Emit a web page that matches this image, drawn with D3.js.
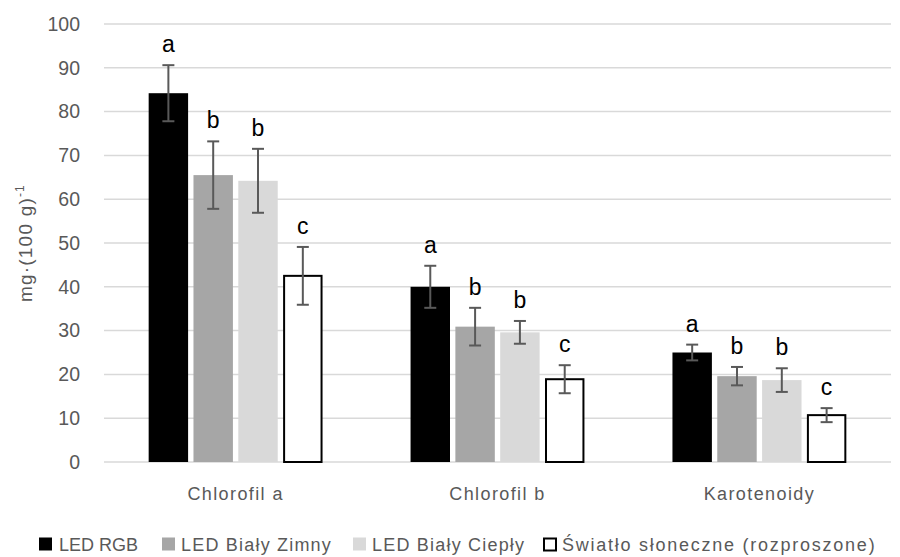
<!DOCTYPE html>
<html>
<head>
<meta charset="utf-8">
<script src="https://cdn.jsdelivr.net/npm/d3@7"></script>
<style>
  body { margin: 0; background: #fff; }
  text { font-family: "Liberation Sans", Arial, sans-serif; }
</style>
</head>
<body>
<div id="chart"></div>
<script>
// categories and series
const categories = ["Chlorofil a", "Chlorofil b", "Karotenoidy"];
const seriesNames = ["LED RGB", "LED Biały Zimny", "LED Biały Ciepły", "Światło słoneczne (rozproszone)"];
const seriesColors = ["#000000", "#a6a6a6", "#d9d9d9", "#ffffff"];
// mean values per series (in category order)
const ledRgb = [84.2, 40.0, 25.0];
const ledZimny = [65.5, 30.9, 19.6];
const ledCieply = [64.2, 29.6, 18.7];
const swiatlo = [42.5, 18.9, 10.7];
// error (+/-) per series
const errRgb = [6.4, 4.8, 1.8];
const errZimny = [7.7, 4.3, 2.1];
const errCieply = [7.3, 2.6, 2.7];
const errSwiatlo = [6.6, 3.2, 1.6];
// significance letters
const lettersRgb = ["a", "a", "a"];
const lettersZimny = ["b", "b", "b"];
const lettersCieply = ["b", "b", "b"];
const lettersSwiatlo = ["c", "c", "c"];
const yTicks = [0, 10, 20, 30, 40, 50, 60, 70, 80, 90, 100];

const values = [ledRgb, ledZimny, ledCieply, swiatlo];
const errors = [errRgb, errZimny, errCieply, errSwiatlo];
const letters = [lettersRgb, lettersZimny, lettersCieply, lettersSwiatlo];

const width = 900, height = 557;
const margin = { top: 24, right: 9, bottom: 95, left: 104 };
const w = width - margin.left - margin.right,
  h = height - margin.top - margin.bottom;

const svg = d3.select("#chart").append("svg")
  .attr("width", width).attr("height", height);
const g = svg.append("g")
  .attr("transform", "translate(" + margin.left + "," + margin.top + ")");

// scales
const x0 = d3.scaleBand().domain(categories).range([0, w]).paddingInner(0.295).paddingOuter(0.15);
const x1 = d3.scaleBand().domain(d3.range(seriesNames.length)).range([0, x0.bandwidth()]).padding(0.12);
const y = d3.scaleLinear().domain([0, 100]).range([h, 0]);

// gridlines
g.selectAll(".grid").data(yTicks).enter().append("line")
  .attr("x1", 0).attr("x2", w)
  .attr("y1", d => y(d)).attr("y2", d => y(d))
  .attr("stroke", "#d9d9d9").attr("stroke-width", 1.5);

// y axis labels
const yAxis = d3.axisLeft(y).tickValues(yTicks).tickSize(0).tickPadding(24);
const gY = g.append("g").call(yAxis);
gY.select(".domain").remove();
gY.selectAll("text").attr("font-size", 19.5).attr("fill", "#595959")
  .style("font-family", "'Liberation Sans', Arial, sans-serif");

// x axis labels
const xAxis = d3.axisBottom(x0).tickSize(0).tickPadding(25);
const gX = g.append("g").attr("transform", "translate(0," + h + ")").call(xAxis);
gX.select(".domain").remove();
gX.selectAll("text").attr("font-size", 18).attr("fill", "#595959")
  .attr("letter-spacing", 1.4)
  .style("font-family", "'Liberation Sans', Arial, sans-serif");

// bars
const rows = [];
categories.forEach((c, ci) => {
  seriesNames.forEach((s, si) => {
    rows.push({ cat: c, si: si, v: values[si][ci], e: errors[si][ci], l: letters[si][ci] });
  });
});

const bx = d => x0(d.cat) + x1(d.si);

g.selectAll(".bar").data(rows).enter().append("rect")
  .attr("x", d => bx(d) + (d.si === 3 ? 1 : 0))
  .attr("y", d => y(d.v))
  .attr("width", d => x1.bandwidth() - (d.si === 3 ? 2 : 0))
  .attr("height", d => y(0) - y(d.v))
  .attr("fill", d => seriesColors[d.si])
  .attr("stroke", d => d.si === 3 ? "#000" : "none")
  .attr("stroke-width", 2);

// error bars
const eb = g.selectAll(".err").data(rows).enter().append("g")
  .attr("stroke", "#595959").attr("stroke-width", 2);
const cx = d => bx(d) + x1.bandwidth() / 2;
eb.append("line").attr("x1", cx).attr("x2", cx)
  .attr("y1", d => y(d.v + d.e)).attr("y2", d => y(d.v - d.e));
eb.append("line").attr("x1", d => cx(d) - 6).attr("x2", d => cx(d) + 6)
  .attr("y1", d => y(d.v + d.e)).attr("y2", d => y(d.v + d.e));
eb.append("line").attr("x1", d => cx(d) - 6).attr("x2", d => cx(d) + 6)
  .attr("y1", d => y(d.v - d.e)).attr("y2", d => y(d.v - d.e));

// letters
g.selectAll(".lab").data(rows).enter().append("text")
  .attr("x", cx)
  .attr("y", d => y(d.v + d.e) - 13)
  .attr("text-anchor", "middle")
  .attr("font-size", 23)
  .attr("fill", "#000")
  .text(d => d.l);

// y axis title
const yt = svg.append("text")
  .attr("transform", "translate(32," + (margin.top + h / 2) + ") rotate(-90)")
  .attr("text-anchor", "middle")
  .attr("font-size", 19).attr("fill", "#595959")
  .attr("letter-spacing", 1.2);
yt.append("tspan").text("mg·(100 g)");
yt.append("tspan").attr("dy", -8).attr("font-size", 12).text("-1");

// legend
const legendX = [39, 162, 353, 543];
const legendSpacing = [0, 1.2, 1.2, 1.75];
const legend = svg.append("g").attr("transform", "translate(0,544)");
seriesNames.forEach((s, i) => {
  const item = legend.append("g").attr("transform", "translate(" + legendX[i] + ",0)");
  item.append("rect").attr("x", i === 3 ? 1 : 0).attr("y", i === 3 ? -5.5 : -6.5)
    .attr("width", i === 3 ? 12 : 13).attr("height", i === 3 ? 12 : 13)
    .attr("fill", seriesColors[i])
    .attr("stroke", i === 3 ? "#000" : "none").attr("stroke-width", 2);
  item.append("text").attr("x", i === 0 ? 20 : 19).attr("y", 7)
    .attr("font-size", 18).attr("fill", "#595959")
    .attr("letter-spacing", legendSpacing[i])
    .text(s);
});
</script>
</body>
</html>
